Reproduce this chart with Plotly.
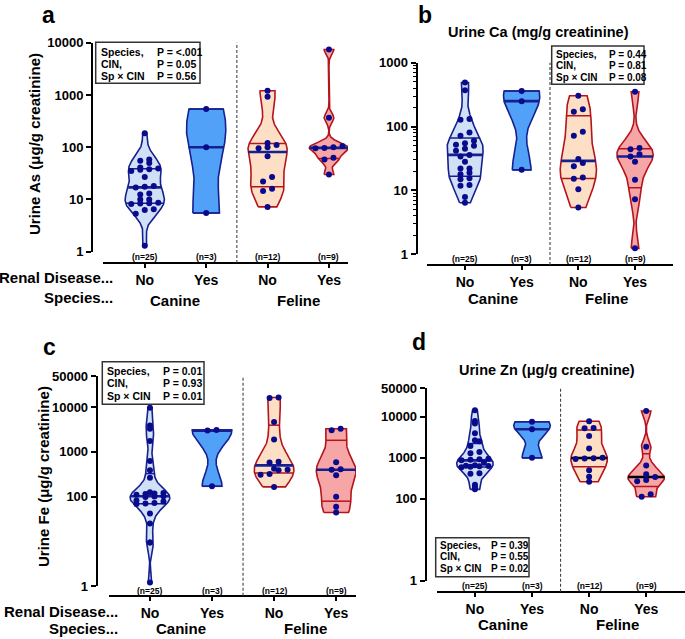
import numpy as np
import plotly.graph_objects as go

W, H = 685, 639
FONT = "Arial, Liberation Sans, sans-serif"

# ---------------------------------------------------------------------
# DATA (order: canine no, canine yes, feline no, feline yes)
# ---------------------------------------------------------------------
renal_labels = ["No", "Yes", "No", "Yes"]
species_labels = ["Canine", "Feline"]
stat_terms = ["Species,", "CIN,", "Sp × CIN"]

as_canine_no = [185, 58, 55, 50, 41, 39, 38, 37, 35, 27, 18, 17.5, 17, 13, 12.5,
                10, 10, 8.6, 8.5, 8.4, 8.2, 6.5, 6.3, 5.3, 1.3]
as_canine_yes = [540, 100, 5.5]
as_feline_no = [1200, 920, 120, 110, 100, 95, 67, 27, 22, 16, 14.5, 7.2]
as_feline_yes = [7400, 365, 105, 100, 97, 95, 63, 58, 30]
as_pvalues = ["P = <.001", "P = 0.05", "P = 0.56"]

ca_canine_no = [488, 370, 131, 128, 81, 72, 60, 55, 52, 50, 45, 42, 36, 34, 28,
                22, 22, 19, 18, 15.5, 15, 12.2, 11.8, 7.9, 6.4]
ca_canine_yes = [360, 250, 21]
ca_feline_no = [303, 187, 170, 83, 72, 31, 27, 24, 16, 15.2, 10.4, 5.4]
ca_feline_yes = [350, 46, 44, 37, 34, 28, 14.7, 7.3, 1.24]
ca_pvalues = ["P = 0.44", "P = 0.81", "P = 0.08"]

fe_canine_no = [9700, 3900, 3300, 1750, 630, 390, 263, 125, 120, 118, 115, 110, 102,
                100, 98, 82, 78, 72, 70, 68, 42, 25, 9.4, 9.4, 1.2]
fe_canine_yes = [3100, 3000, 170]
fe_feline_no = [16500, 16000, 4650, 1900, 600, 580, 420, 400, 390, 320, 310, 165]
fe_feline_yes = [3300, 3050, 590, 410, 400, 300, 99, 59, 44]
fe_pvalues = ["P = 0.01", "P = 0.93", "P = 0.01"]

zn_canine_no = [14500, 8000, 6900, 4000, 2700, 2550, 1950, 1400, 1300, 950, 930, 900,
                870, 760, 660, 640, 630, 620, 610, 590, 420, 410, 220, 195, 170]
zn_canine_yes = [7600, 5000, 1000]
zn_feline_no = [7850, 5400, 5300, 3400, 1700, 1000, 980, 960, 940, 500, 345, 260]
zn_feline_yes = [14000, 1860, 650, 400, 340, 290, 270, 130, 112]
zn_pvalues = ["P = 0.39", "P = 0.55", "P = 0.02"]

# ---------------------------------------------------------------------
# STYLE
# ---------------------------------------------------------------------
NAVY = "#16208f"
DOT = "#0a0a8c"
DARKRED = "#b5141c"
FILLS = ["#cfe0f7", "#52a1f8", "#fddfc6", "#f6a6a6"]
OUTLINES = [NAVY, NAVY, DARKRED, DARKRED]
HALF_W = 0.32

# pixel geometry of each panel (axis lines, label rows, stat box)
PANELS = [
    dict(letter="a", groups=[as_canine_no, as_canine_yes, as_feline_no, as_feline_yes],
         pvals=as_pvalues, ticks=[1, 10, 100, 1000, 10000], ymax=4, minor=False,
         x0=103, x1=348, xr=(-0.68, 3.31), yline=92, ybot=251.7, ytop=42.7, xline=263,
         letter_x=49, ytitle="Urine As (μg/g creatinine)", ytitle_xy=(34, 144),
         title=None, sp_y=300, renal=(115, 277, 297), n_y=256.5, fmed=NAVY,
         box=(95.7, 42.3, 200, 83.3), cols=(99, 155), rows=(51.7, 64, 76.5), stat_size=10.5),
    dict(letter="b", groups=[ca_canine_no, ca_canine_yes, ca_feline_no, ca_feline_yes],
         pvals=ca_pvalues, ticks=[1, 10, 100, 1000], ymax=3, minor=True,
         x0=427, x1=673, xr=(-0.67, 3.67), yline=416.5, ybot=254.3, ytop=62.7, xline=265,
         letter_x=425, ytitle=None, title="Urine Ca (mg/g creatinine)",
         title_xy=(538.5, 32.3), sp_y=298, renal=None, n_y=259, fmed=NAVY,
         box=(551.7, 46, 644, 84.3), cols=(554.3, 606.7), rows=(54, 65.7, 77.5), stat_size=10),
    dict(letter="c", groups=[fe_canine_no, fe_canine_yes, fe_feline_no, fe_feline_yes],
         pvals=fe_pvalues, ticks=[1, 100, 1000, 10000, 50000], ymax=np.log10(50000),
         minor=False, x0=109, x1=356, xr=(-0.66, 3.32), yline=96.7, ybot=586, ytop=376,
         xline=595.7, letter_x=50, letter_y=347, ytitle="Urine Fe (μg/g creatinine)",
         ytitle_xy=(43, 477), title=None, sp_y=None, renal=(120, 611, None), n_y=590.5,
         fmed=NAVY, box=(102.3, 361.7, 204, 404.3), cols=(105.3, 161),
         rows=(371, 383.3, 396), stat_size=10.5),
    dict(letter="d", groups=[zn_canine_no, zn_canine_yes, zn_feline_no, zn_feline_yes],
         pvals=zn_pvalues, ticks=[1, 100, 1000, 10000, 50000], ymax=np.log10(50000),
         minor=False, x0=436.7, x1=685, xr=(-0.67, 3.68), yline=425.7, ybot=580.7,
         ytop=388.3, xline=591.7, letter_x=419.5, letter_y=342, ytitle=None,
         title="Urine Zn (μg/g creatinine)", title_xy=(546.7, 370), sp_y=624, renal=None,
         n_y=586, fmed="black", box=(435.7, 537.7, 529, 576.7), cols=(438, 489.3),
         rows=(545, 556.7, 568.7), stat_size=10),
]


def px(x):
    return x / W


def py(y):
    return 1 - y / H


def kde_profile(logs, n=240, bw_scale=0.8):
    v = np.asarray(logs, dtype=float)
    sd = v.std(ddof=1)
    q75, q25 = np.percentile(v, [75, 25])
    s = min(sd, (q75 - q25) / 1.34) if q75 > q25 else sd
    bw = bw_scale * 1.06 * s * len(v) ** -0.2
    grid = np.linspace(v.min(), v.max(), n)
    dens = np.exp(-0.5 * ((grid[:, None] - v[None, :]) / bw) ** 2).sum(axis=1)
    return grid, dens / dens.max()


def swarm_offsets(logs, grid, dens, sx, sy, step=9.0, row_gap=5.0):
    """Prism-like rows: points close in y share a row (as many as fit inside
    the violin at that level), spread symmetrically about the centre."""
    logs = np.asarray(logs, dtype=float)
    out = np.zeros(len(logs))
    rows, start, cap = [], None, 1
    for idx in np.argsort(logs):
        y = logs[idx] * sy
        if rows and y - start < row_gap and len(rows[-1]) < cap:
            rows[-1].append(idx)
        else:
            rows.append([idx])
            start = y
            width = 2 * HALF_W * np.interp(logs[idx], grid, dens) * sx
            cap = max(1, int((width - 3) // step) + 1)
    for row in rows:
        k = len(row)
        for j, idx in enumerate(row):
            out[idx] = (j - (k - 1) / 2) * step / sx
    return out


fig = go.Figure()
layout = dict(width=W, height=H, margin=dict(l=0, r=0, t=0, b=0, autoexpand=False),
              paper_bgcolor="white", plot_bgcolor="white", showlegend=False,
              font=dict(family=FONT, color="black"))
annotations, shapes = [], []


def label(x, y, s, size, xref="paper", xanchor="center", yanchor="middle", **kw):
    annotations.append(dict(x=x, y=y, xref=xref, yref="paper", text=s, showarrow=False,
                            xanchor=xanchor, yanchor=yanchor,
                            font=dict(family=FONT, size=size, color="black", weight="bold"),
                            **kw))


for i, p in enumerate(PANELS):
    sfx = "" if i == 0 else str(i + 1)
    xa, ya = "x" + sfx, "y" + sfx
    sx = (p["x1"] - p["x0"]) / (p["xr"][1] - p["xr"][0])
    sy = (p["ybot"] - p["ytop"]) / p["ymax"]

    for g, vals in enumerate(p["groups"]):
        vals = np.asarray(vals, dtype=float)
        logs = np.log10(vals)
        grid, dens = kde_profile(logs)
        half = HALF_W * dens
        fig.add_trace(go.Scatter(
            x=np.concatenate([g - half, (g + half)[::-1], [g - half[0]]]),
            y=np.concatenate([grid, grid[::-1], [grid[0]]]),
            mode="lines", fill="toself", fillcolor=FILLS[g],
            line=dict(color=OUTLINES[g], width=1.6), xaxis=xa, yaxis=ya, hoverinfo="skip"))

        q1, med, q3 = np.percentile(vals, [25, 50, 75], method="weibull")
        for q, is_med in ((q1, False), (q3, False), (med, True)):
            lq = np.log10(q)
            w = HALF_W * np.interp(lq, grid, dens)
            color = (NAVY if g < 2 else p["fmed"]) if is_med else OUTLINES[g]
            fig.add_trace(go.Scatter(
                x=[g - w, g + w], y=[lq, lq], mode="lines",
                line=dict(color=color, width=2.6 if is_med else 1.5),
                xaxis=xa, yaxis=ya, hoverinfo="skip"))

        fig.add_trace(go.Scatter(
            x=g + swarm_offsets(logs, grid, dens, sx, sy), y=logs, mode="markers",
            marker=dict(color=DOT, size=6), cliponaxis=False,
            xaxis=xa, yaxis=ya))

        label(g, py(p["n_y"]), f"(n={len(vals)})", 8.5, xref=xa)

    # axes
    yvals = np.log10(p["ticks"])
    yaxis = dict(domain=[py(p["ybot"]), py(p["ytop"])], range=[0, p["ymax"]],
                 anchor="free", position=px(p["yline"]), tickmode="array",
                 tickvals=yvals, ticktext=[str(t) for t in p["ticks"]],
                 showgrid=False, zeroline=False, showline=True, linecolor="black",
                 linewidth=2, ticks="outside", ticklen=5, tickwidth=2, tickcolor="black",
                 tickfont=dict(family=FONT, size=13, weight="bold"))
    if p["minor"]:
        mv = [np.log10(k * 10 ** e) for e in range(int(p["ymax"])) for k in range(2, 10)]
        yaxis["minor"] = dict(tickmode="array", tickvals=mv, ticks="outside", ticklen=3,
                              tickwidth=1, tickcolor="black", showgrid=False)
    layout["yaxis" + sfx] = yaxis
    layout["xaxis" + sfx] = dict(
        domain=[px(p["x0"]), px(p["x1"])], range=list(p["xr"]), anchor="free",
        position=py(p["xline"]), tickmode="array", tickvals=[0, 1, 2, 3],
        ticktext=renal_labels, showgrid=False, zeroline=False, showline=True,
        linecolor="black", linewidth=2, ticks="outside", ticklen=4, tickwidth=1.5,
        tickcolor="black", tickfont=dict(family=FONT, size=14, weight="bold"))

    # species names under each pair (bottom row of panel c sits on the page edge)
    if p["sp_y"] is None:
        sp_kw = dict(y=0, yanchor="bottom")
    else:
        sp_kw = dict(y=py(p["sp_y"]))
    label(0.5, s=species_labels[0], size=15, xref=xa, **sp_kw)
    label(2.5, s=species_labels[1], size=15, xref=xa, **sp_kw)
    if p["renal"]:
        rx, r1, r2 = p["renal"]
        label(px(rx), py(r1), "Renal Disease...", 15, xanchor="right")
        r2_kw = dict(y=0, yanchor="bottom") if r2 is None else dict(y=py(r2))
        label(px(rx), s="Species...", size=15, xanchor="right", **r2_kw)

    # dashed separator between species
    shapes.append(dict(type="line", xref=xa, yref="paper", x0=1.5, x1=1.5,
                       y0=py(p["xline"]), y1=py(p["ytop"]),
                       line=dict(color="#444444", width=1.1, dash="3px,2px")))

    # stat box
    bx0, by0, bx1, by1 = p["box"]
    shapes.append(dict(type="rect", xref="paper", yref="paper", x0=px(bx0), x1=px(bx1),
                       y0=py(by1), y1=py(by0), fillcolor="white",
                       line=dict(color="#333333", width=1.5), layer="above"))
    for term, pv, ry in zip(stat_terms, p["pvals"], p["rows"]):
        label(px(p["cols"][0]), py(ry), term, p["stat_size"], xanchor="left")
        label(px(p["cols"][1]), py(ry), pv, p["stat_size"], xanchor="left")

    # titles
    if "letter_y" in p:
        label(px(p["letter_x"]), py(p["letter_y"]), p["letter"], 23)
    else:
        label(px(p["letter_x"]), 1, p["letter"], 23, yanchor="top")
    if p["ytitle"]:
        tx, ty = p["ytitle_xy"]
        label(px(tx), py(ty), p["ytitle"], 15, textangle=-90)
    if p["title"]:
        tx, ty = p["title_xy"]
        label(px(tx), py(ty), p["title"], 14.5)

layout["annotations"] = annotations
layout["shapes"] = shapes
fig.update_layout(**layout)
# the page body carries a default 8px margin; drop it so the figure sits at the origin
fig.write_html("out.html", config={"displayModeBar": False},
               post_script="document.body.style.margin = '0';")
